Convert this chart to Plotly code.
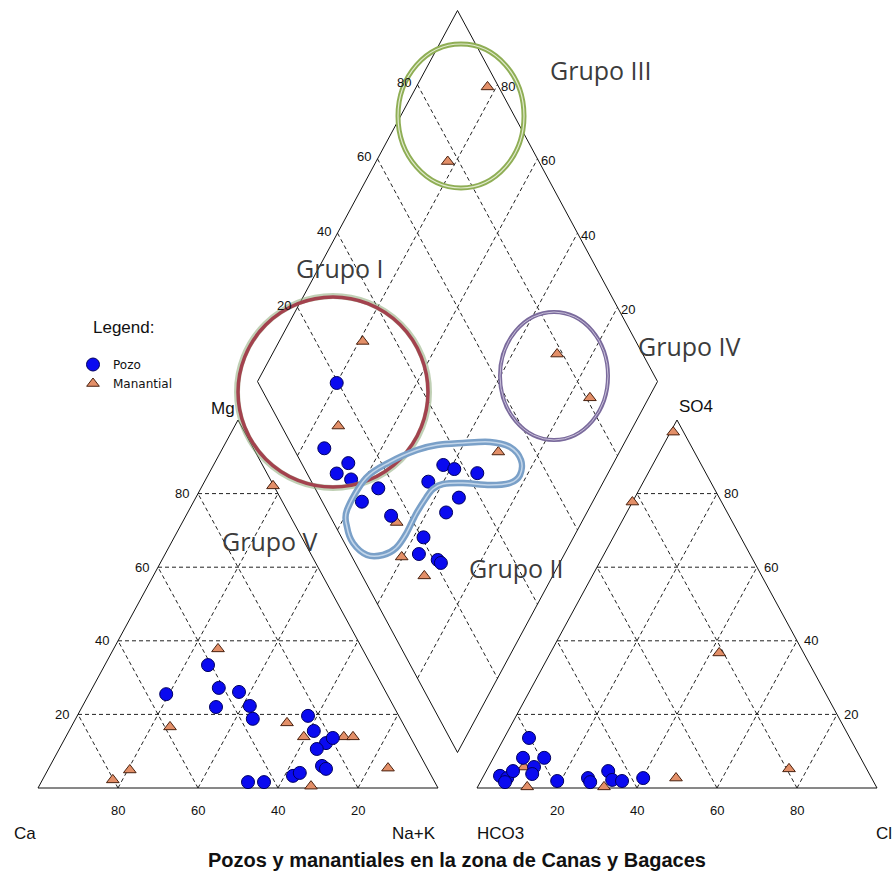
import plotly.graph_objects as go

# ---------------------------------------------------------------------------
# Piper diagram data (percent of meq/L)
# ---------------------------------------------------------------------------
# Cation triangle: Ca and Mg (Na+K is the remainder)
pozo_cat_ca = [40.8, 55.2, 41.2, 44.5, 36.7, 35.9, 36.9, 22.7, 23.3, 21.9,
               19.5, 25.0, 26.0, 25.4, 34.6, 32.5, 46.7, 42.7]
pozo_cat_mg = [33.4, 25.5, 27.2, 22.0, 26.1, 22.3, 18.8, 19.6, 15.5, 12.2,
               13.6, 10.6, 6.0, 5.2, 3.3, 4.1, 1.6, 1.6]
man_cat_ca = [36.1, 58.7, 74.6, 80.2, 28.9, 26.6, 16.6, 14.3, 31.5, 9.8, 0.2]
man_cat_mg = [37.8, 16.6, 4.9, 2.2, 17.7, 13.9, 13.9, 13.9, 0.5, 5.4, 82.1]

# Anion triangle: Cl and SO4 (HCO3 is the remainder)
pozo_an_cl = [6.2, 7.4, 12.7, 11.4, 11.9, 4.1, 6.2, 6.2, 6.7, 19.1,
              26.4, 27.5, 30.5, 32.7, 35.3, 40.2]
pozo_an_so4 = [13.6, 8.2, 8.2, 5.7, 3.8, 3.3, 2.7, 1.6, 4.6, 1.9,
               2.7, 1.6, 4.6, 2.2, 1.9, 2.7]
man_an_cl = [12.4, 31.6, 48.4, 75.4, 0.7, 0.0, 42.2, 8.9]
man_an_so4 = [0.3, 0.3, 2.7, 5.2, 96.7, 77.7, 36.7, 5.7]

# Central diamond: Na+K and Cl+SO4
pozo_dia_nak = [20.0, 25.7, 33.7, 32.2, 36.6, 44.6, 42.3, 51.5, 56.2, 57.7,
                61.0, 67.3, 66.0, 64.8, 62.5, 63.6, 69.1, 70.3]
pozo_dia_clso4 = [19.6, 7.7, 11.7, 7.4, 10.2, 15.8, 9.9, 15.3, 29.2, 35.2,
                  37.4, 42.6, 34.7, 29.5, 20.5, 17.1, 21.0, 21.4]
man_dia_nak = [20.9, 26.2, 69.7, 53.8, 59.7, 67.9, 17.8, 17.9, 71.2, 85.3]
man_dia_clso4 = [31.7, 14.2, 50.7, 15.8, 12.4, 15.5, 97.2, 77.2, 78.6, 80.9]

grid_steps = [20, 40, 60, 80]
title_text = "Pozos y manantiales en la zona de Canas y Bagaces"

# ---------------------------------------------------------------------------
# Diagram geometry (page pixels, y grows downward)
# ---------------------------------------------------------------------------
W, H = 896, 880
L0, R0 = 38.0, 477.0          # left corners of cation / anion triangles
BASE = 788.0
SIDE = 400.0
TRI_H = 368.0
DIA_CY = 381.5
DIA_H = 371.0
DIA_X0 = (L0 + SIDE + R0) / 2 - SIDE / 2


def cation_xy(ca, mg):
    na = 100 - ca - mg
    return L0 + SIDE * (na + mg / 2) / 100, BASE - TRI_H * mg / 100


def anion_xy(cl, so4):
    return R0 + SIDE * (cl + so4 / 2) / 100, BASE - TRI_H * so4 / 100


def diamond_xy(nak, clso4):
    a, b = nak / 100, clso4 / 100
    return DIA_X0 + SIDE / 2 * (a + b), DIA_CY - DIA_H * (b - a)


def project(fn, p, q):
    xs, ys = [], []
    for u, v in zip(p, q):
        x, y = fn(u, v)
        xs.append(x)
        ys.append(y)
    return xs, ys


fig = go.Figure()

# ---- frame and grid ------------------------------------------------------
frame_seg = []
grid_seg = []
# cation triangle
frame_seg.append([cation_xy(100, 0), cation_xy(0, 0), cation_xy(0, 100), cation_xy(100, 0)])
for k in grid_steps:
    grid_seg.append([cation_xy(100 - k, k), cation_xy(0, k)])
    grid_seg.append([cation_xy(k, 0), cation_xy(k, 100 - k)])
    grid_seg.append([cation_xy(100 - k, 0), cation_xy(0, 100 - k)])
# anion triangle
frame_seg.append([anion_xy(0, 0), anion_xy(100, 0), anion_xy(0, 100), anion_xy(0, 0)])
for k in grid_steps:
    grid_seg.append([anion_xy(0, k), anion_xy(100 - k, k)])
    grid_seg.append([anion_xy(k, 0), anion_xy(0, k)])
    grid_seg.append([anion_xy(k, 0), anion_xy(k, 100 - k)])
# diamond
frame_seg.append([diamond_xy(0, 0), diamond_xy(100, 0), diamond_xy(100, 100),
                  diamond_xy(0, 100), diamond_xy(0, 0)])
for k in grid_steps:
    grid_seg.append([diamond_xy(k, 0), diamond_xy(k, 100)])
    grid_seg.append([diamond_xy(0, k), diamond_xy(100, k)])


def merged(segs):
    xs, ys = [], []
    for s in segs:
        xs += [p[0] for p in s] + [None]
        ys += [p[1] for p in s] + [None]
    return xs, ys


gx, gy = merged(grid_seg)
fig.add_trace(go.Scatter(x=gx, y=gy, mode="lines",
                         line=dict(color="#222222", width=1, dash="4px,3px"),
                         hoverinfo="skip", showlegend=False))
fx, fy = merged(frame_seg)
fig.add_trace(go.Scatter(x=fx, y=fy, mode="lines",
                         line=dict(color="#111111", width=1),
                         hoverinfo="skip", showlegend=False))

# ---- samples -------------------------------------------------------------
man_style = dict(symbol="triangle-up", size=11, color="#e38f68",
                 line=dict(color="#4a2210", width=1))
pozo_style = dict(symbol="circle", size=13, color="#0a0af0",
                  line=dict(color="#000060", width=1))

for i, (fn, p, q) in enumerate([(cation_xy, man_cat_ca, man_cat_mg),
                                (anion_xy, man_an_cl, man_an_so4),
                                (diamond_xy, man_dia_nak, man_dia_clso4)]):
    xs, ys = project(fn, p, q)
    fig.add_trace(go.Scatter(x=xs, y=ys, mode="markers", marker=man_style,
                             name="Manantial", legendgroup="man",
                             legendrank=2, showlegend=(i == 0)))

for i, (fn, p, q) in enumerate([(cation_xy, pozo_cat_ca, pozo_cat_mg),
                                (anion_xy, pozo_an_cl, pozo_an_so4),
                                (diamond_xy, pozo_dia_nak, pozo_dia_clso4)]):
    xs, ys = project(fn, p, q)
    fig.add_trace(go.Scatter(x=xs, y=ys, mode="markers", marker=pozo_style,
                             name="Pozo", legendgroup="pozo",
                             legendrank=1, showlegend=(i == 0)))

# ---- labels --------------------------------------------------------------
ann = []
TICK_FONT = dict(family="Liberation Sans, Arial, sans-serif", size=13, color="#111111")


def label(x, y, text, xanchor="center", yanchor="middle", font=None, dx=0, dy=0):
    ann.append(dict(x=x, y=y, text=text, showarrow=False, xanchor=xanchor,
                    yanchor=yanchor, xshift=dx, yshift=-dy,
                    font=font or TICK_FONT))


for k in grid_steps:
    x, y = cation_xy(k, 0)
    label(x, y, str(k), dy=22)
    x, y = cation_xy(100 - k, k)
    label(x, y, str(k), xanchor="right", dx=-7)
    x, y = anion_xy(k, 0)
    label(x, y, str(k), dy=22)
    x, y = anion_xy(100 - k, k)
    label(x, y, str(k), xanchor="left", dx=5)
    x, y = diamond_xy(0, k)
    label(x, y, str(k), xanchor="right", dx=-5, dy=-2)
    x, y = diamond_xy(100 - k, 100)
    label(x, y, str(k), xanchor="left", dx=1, dy=2)

CORNER_FONT = dict(family="Liberation Sans, Arial, sans-serif", size=17, color="#111111")
x, y = cation_xy(100, 0)
label(x, y, "Ca", xanchor="right", dy=45, font=CORNER_FONT)
x, y = cation_xy(0, 0)
label(x, y, "Na+K", xanchor="right", dy=45, font=CORNER_FONT)
x, y = cation_xy(0, 100)
label(x, y, "Mg", xanchor="right", dx=-1, dy=-12, font=CORNER_FONT)
x, y = anion_xy(0, 0)
label(x, y, "HCO3", xanchor="left", dx=-2, dy=45, font=CORNER_FONT)
x, y = anion_xy(100, 0)
label(x, y, "Cl", xanchor="right", dx=17, dy=45, font=CORNER_FONT)
x, y = anion_xy(0, 100)
label(x, y, "SO4", xanchor="left", dx=0, dy=-14, font=CORNER_FONT)

label(457, 860, "<b>" + title_text + "</b>",
      font=dict(family="Liberation Sans, Arial, sans-serif", size=20, color="#111111"))

GROUP_FONT = dict(family="Open Sans, sans-serif", size=25, color="#3c3c3c")
for text, gxp, gyp in [("Grupo III", 601, 70), ("Grupo I", 340, 268),
                       ("Grupo IV", 689, 346), ("Grupo V", 270, 541),
                       ("Grupo II", 516, 568)]:
    label(gxp, gyp, text, font=GROUP_FONT)

label(91, 327, "Legend:", xanchor="left",
      font=dict(family="Liberation Sans, Arial, sans-serif", size=17, color="#111111"))

# ---- group outlines ------------------------------------------------------
shapes = []


def ellipse(cx, cy, rx, ry, color, width):
    shapes.append(dict(type="circle", xref="x", yref="y",
                       x0=cx - rx, x1=cx + rx, y0=cy - ry, y1=cy + ry,
                       line=dict(color=color, width=width)))


ellipse(461, 116, 63, 72, "#8fae55", 5)
ellipse(461, 116, 63, 72, "rgba(235,242,220,0.9)", 1.2)
ellipse(333, 392, 96, 96, "rgba(140,170,120,0.55)", 6)
ellipse(333, 392, 95, 95, "#a3424e", 3.5)
ellipse(554, 376, 54, 64, "#7a6a9c", 4)
ellipse(554, 376, 54, 64, "rgba(220,214,232,0.8)", 1)


def smooth_closed_path(pts):
    n = len(pts)
    d = "M %.1f,%.1f" % pts[0]
    for i in range(n):
        p0, p1 = pts[(i - 1) % n], pts[i]
        p2, p3 = pts[(i + 1) % n], pts[(i + 2) % n]
        c1 = (p1[0] + (p2[0] - p0[0]) / 6, p1[1] + (p2[1] - p0[1]) / 6)
        c2 = (p2[0] - (p3[0] - p1[0]) / 6, p2[1] - (p3[1] - p1[1]) / 6)
        d += " C %.1f,%.1f %.1f,%.1f %.1f,%.1f" % (c1 + c2 + p2)
    return d + " Z"


band = [(347, 510), (366, 478), (390, 462), (417, 450), (437, 445),
        (463, 443), (490, 442), (510, 447), (521, 460), (520, 475),
        (510, 483), (490, 485), (463, 483), (443, 484), (433, 489),
        (426, 498), (416, 514), (406, 534), (396, 548), (383, 555),
        (367, 555), (353, 543), (347, 527)]
band_path = smooth_closed_path(band)
shapes.append(dict(type="path", path=band_path, xref="x", yref="y",
                   line=dict(color="#7aa0c8", width=6.5)))
shapes.append(dict(type="path", path=band_path, xref="x", yref="y",
                   line=dict(color="#c3d6ea", width=1.5)))

fig.update_layout(
    width=W, height=H,
    margin=dict(l=0, r=0, t=0, b=0),
    paper_bgcolor="white", plot_bgcolor="white",
    xaxis=dict(range=[0, W], visible=False, fixedrange=True),
    yaxis=dict(range=[H, 0], visible=False, fixedrange=True),
    annotations=ann, shapes=shapes,
    legend=dict(x=73 / W, y=1 - 350 / H, xanchor="left", yanchor="top",
                bgcolor="rgba(0,0,0,0)", tracegroupgap=0,
                font=dict(family="DejaVu Sans, sans-serif", size=12, color="#111111")),
)

fig.write_html("out.html")
